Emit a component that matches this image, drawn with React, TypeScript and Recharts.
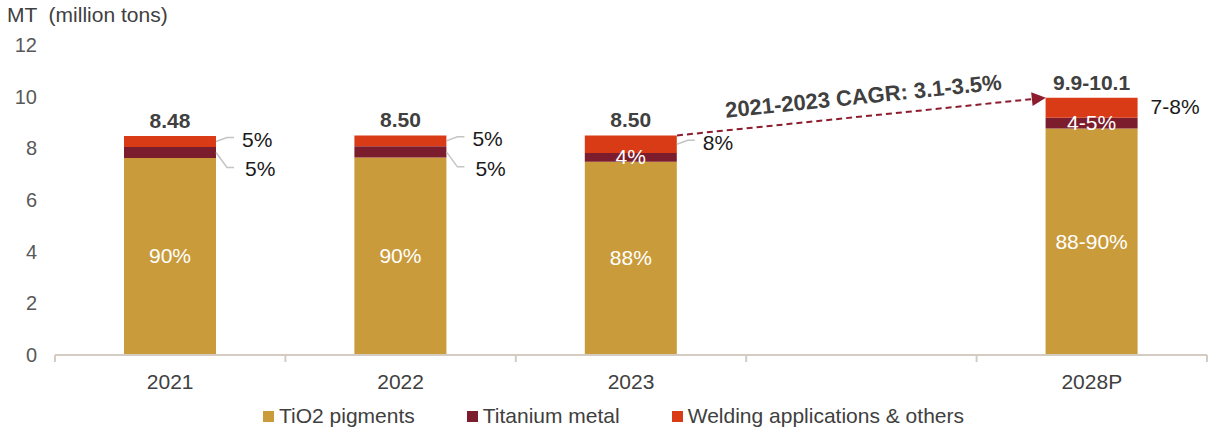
import React from "react";
import {
    BarChart,
    Bar,
    XAxis,
    YAxis,
    Legend,
    LabelList,
    ReferenceLine,
    Customized,
} from "recharts";

// chart data
const categories = ["2021", "2022", "2023", "", "2028P"];
const tio2Values = [7.63, 7.65, 7.48, null, 8.77];
const metalValues = [0.42, 0.43, 0.34, null, 0.41];
const weldingValues = [0.43, 0.42, 0.68, null, 0.78];

const totalLabels = ["8.48", "8.50", "8.50", null, "9.9-10.1"];
const tio2Labels = ["90%", "90%", "88%", null, "88-90%"];
const metalLabels = ["5%", "5%", "4%", null, "4-5%"];
const weldingLabels = ["5%", "5%", "8%", null, "7-8%"];

// where the small labels sit: inside the bar or outside with a leader
const metalInside = [false, false, true, false, true];
const weldingLeader = [true, true, true, false, false];

const yTicks = [0, 2, 4, 6, 8, 10, 12];
const seriesNames = ["TiO2 pigments", "Titanium metal", "Welding applications & others"];
const unitTitle = "MT  (million tons)";
const cagrLabel = "2021-2023 CAGR: 3.1-3.5%";
const cagrFrom = "2023";
const cagrTo = "2028P";

const COLORS = ["#C99B3B", "#7B1D2C", "#D93B17"];
const FONT = "'Liberation Sans', Arial, sans-serif";
const TEXT = "#404040";
const AXIS = "#D4CCC3";
const LEADER = "#C4C4C4";

const W = 1209;
const H = 431;
const MARGIN = { top: 45, right: 2, left: 0, bottom: 0 };
const Y_W = 55;
const BAR = 92;
const HALF_BAND = (W - MARGIN.left - MARGIN.right - Y_W) / categories.length / 2;

const total = (i: number) =>
    tio2Values[i] == null
        ? null
        : (tio2Values[i] as number) + (metalValues[i] as number) + (weldingValues[i] as number);

const rows = categories.map((year, i) => ({
    year,
    tio2: tio2Values[i],
    metal: metalValues[i],
    welding: weldingValues[i],
    total: total(i),
    totalLabel: totalLabels[i],
    tio2Label: tio2Labels[i],
    metalIn: metalInside[i] ? metalLabels[i] : null,
    metalOut: metalInside[i] ? null : metalLabels[i],
    weldingLead: weldingLeader[i] ? weldingLabels[i] : null,
    weldingPlain: weldingLeader[i] ? null : weldingLabels[i],
}));

const fromTotal = rows.find((r) => r.year === cagrFrom)?.total ?? 0;
const toTotal = rows.find((r) => r.year === cagrTo)?.total ?? 0;

const XTick = (props: any) => {
    const { x, y, payload, index } = props;
    const last = index === categories.length - 1;
    return (
        <g>
            <line x1={x - HALF_BAND} y1={y} x2={x - HALF_BAND} y2={y + 7} stroke={AXIS} strokeWidth={2} />
            {last && (
                <line x1={x + HALF_BAND} y1={y} x2={x + HALF_BAND} y2={y + 7} stroke={AXIS} strokeWidth={2} />
            )}
            <text x={x} y={y + 34} textAnchor="middle" fontSize={21} fill={TEXT} fontFamily={FONT}>
                {payload.value}
            </text>
        </g>
    );
};

const TotalLabel = (p: any) => {
    if (p.value == null) return null;
    return (
        <text x={p.x + p.width / 2} y={p.y - 8} textAnchor="middle" fontSize={21} fontWeight="bold" fill={TEXT} fontFamily={FONT}>
            {p.value}
        </text>
    );
};

const InsideLabel = (p: any) => {
    if (p.value == null) return null;
    return (
        <text x={p.x + p.width / 2} y={p.y + p.height / 2 + 7} textAnchor="middle" fontSize={21} fill="#ffffff" fontFamily={FONT}>
            {p.value}
        </text>
    );
};

const MetalOutLabel = (p: any) => {
    if (p.value == null) return null;
    const ex = p.x + p.width;
    const my = p.y + p.height / 2;
    return (
        <g>
            <polyline
                points={`${ex},${my} ${ex + 11},${my + 15} ${ex + 18},${my + 15}`}
                fill="none"
                stroke={LEADER}
                strokeWidth={1.5}
            />
            <text x={ex + 29} y={my + 24} fontSize={21} fill="#1a1a1a" fontFamily={FONT}>
                {p.value}
            </text>
        </g>
    );
};

const WeldingLeadLabel = (p: any) => {
    if (p.value == null) return null;
    const ex = p.x + p.width;
    const my = p.y + p.height / 2;
    return (
        <g>
            <polyline
                points={`${ex},${my} ${ex + 11},${my - 4} ${ex + 18},${my - 4}`}
                fill="none"
                stroke={LEADER}
                strokeWidth={1.5}
            />
            <text x={ex + 26} y={my + 5.5} fontSize={21} fill="#1a1a1a" fontFamily={FONT}>
                {p.value}
            </text>
        </g>
    );
};

const WeldingPlainLabel = (p: any) => {
    if (p.value == null) return null;
    return (
        <text x={p.x + p.width + 13} y={p.y + p.height / 2 + 6.5} fontSize={21} fill="#1a1a1a" fontFamily={FONT}>
            {p.value}
        </text>
    );
};

const CagrArrow = (p: any) => {
    const x1 = p.x1 + BAR / 2;
    const y1 = p.y1;
    const x2 = p.x2 - BAR / 2;
    const y2 = p.y2;
    const ang = Math.atan2(y2 - y1, x2 - x1);
    const c = Math.cos(ang);
    const s = Math.sin(ang);
    const head = 14;
    const bx = x2 - head * c;
    const by = y2 - head * s;
    const mx = (x1 + x2) / 2 + 4;
    const my = (y1 + y2) / 2;
    const nx = s;
    const ny = -c;
    return (
        <g>
            <line x1={x1} y1={y1} x2={bx} y2={by} stroke="#8C1D2E" strokeWidth={2} strokeDasharray="6 4" />
            <polygon
                points={`${x2},${y2} ${bx + 7 * nx},${by + 7 * ny} ${bx - 7 * nx},${by - 7 * ny}`}
                fill="#8C1D2E"
            />
            <text
                transform={`translate(${mx + nx * 13},${my + ny * 13}) rotate(${(ang * 180) / Math.PI})`}
                textAnchor="middle"
                fontSize={22}
                fontWeight="bold"
                fill={TEXT}
                fontFamily={FONT}
            >
                {cagrLabel}
            </text>
        </g>
    );
};

const LegendContent = () => (
    <div
        style={{
            display: "flex",
            justifyContent: "center",
            alignItems: "center",
            gap: 52,
            height: 30,
            paddingLeft: 20,
            fontFamily: FONT,
            fontSize: 21,
            color: TEXT,
        }}
    >
        {seriesNames.map((name, i) => (
            <div key={name} style={{ display: "flex", alignItems: "center" }}>
                <span style={{ width: 11, height: 11, background: COLORS[i], marginRight: 5, display: "inline-block" }} />
                <span>{name}</span>
            </div>
        ))}
    </div>
);

export default function App() {
    return (
        <div style={{ position: "absolute", left: 0, top: 0, width: W, height: H, background: "#fff" }}>
            <BarChart width={W} height={H} data={rows} margin={MARGIN} barSize={BAR}>
                <XAxis
                    dataKey="year"
                    height={46}
                    axisLine={{ stroke: AXIS, strokeWidth: 2 }}
                    tickLine={false}
                    tickSize={0}
                    tickMargin={0}
                    tick={<XTick />}
                    interval={0}
                />
                <YAxis
                    width={Y_W}
                    domain={[0, 12]}
                    ticks={yTicks}
                    axisLine={false}
                    tickLine={false}
                    tickMargin={12}
                    tick={{ fill: "#595959", fontSize: 20, fontFamily: FONT }}
                />
                <Legend verticalAlign="bottom" content={<LegendContent />} />
                <Bar dataKey="tio2" stackId="a" fill={COLORS[0]} name={seriesNames[0]} isAnimationActive={false}>
                    <LabelList dataKey="tio2Label" content={<InsideLabel />} />
                </Bar>
                <Bar dataKey="metal" stackId="a" fill={COLORS[1]} name={seriesNames[1]} isAnimationActive={false}>
                    <LabelList dataKey="metalIn" content={<InsideLabel />} />
                    <LabelList dataKey="metalOut" content={<MetalOutLabel />} />
                </Bar>
                <Bar dataKey="welding" stackId="a" fill={COLORS[2]} name={seriesNames[2]} isAnimationActive={false}>
                    <LabelList dataKey="weldingLead" content={<WeldingLeadLabel />} />
                    <LabelList dataKey="weldingPlain" content={<WeldingPlainLabel />} />
                    <LabelList dataKey="totalLabel" content={<TotalLabel />} />
                </Bar>
                <ReferenceLine
                    segment={[
                        { x: cagrFrom, y: fromTotal },
                        { x: cagrTo, y: toTotal },
                    ]}
                    ifOverflow="visible"
                    shape={CagrArrow}
                />
                <Customized
                    component={
                        <text x={7} y={22} fontSize={21} fill={TEXT} fontFamily={FONT} style={{ whiteSpace: "pre" }}>
                            {unitTitle}
                        </text>
                    }
                />
            </BarChart>
        </div>
    );
}
